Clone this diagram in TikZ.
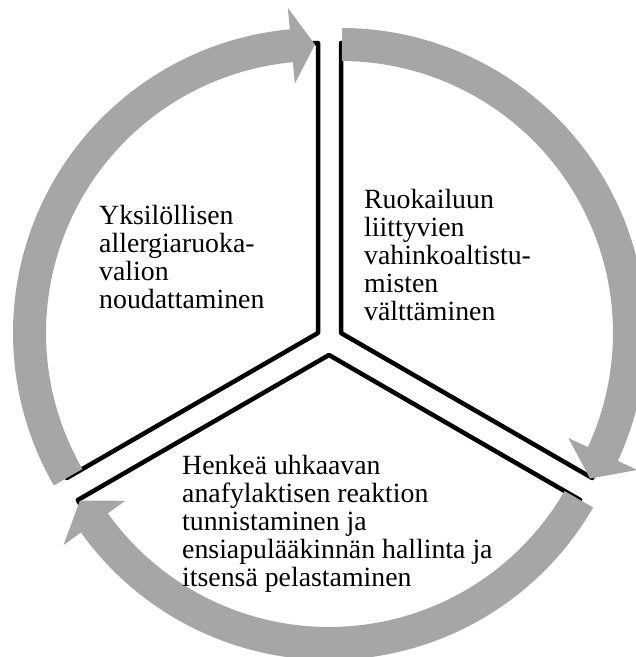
\documentclass[tikz,border=0pt]{standalone}
\usepackage{fontspec}
\setmainfont{Liberation Serif}
\definecolor{arrowgray}{HTML}{A6A6A6}
\begin{document}
\begin{tikzpicture}[x=1pt,y=1pt,
  sector/.style={fill=white,draw=black,line width=4.5pt,line join=round},
  ringarrow/.style={fill=arrowgray},
  blocktext/.style={font=\fontsize{27.8pt}{28pt}\selectfont,align=left,inner sep=0pt,anchor=north west}]
\clip (0,0) rectangle (636,657);
\coordinate (A) at (318,324);
\coordinate (B) at (341,324);
\coordinate (C) at (329,302);
% pie sectors
\draw[sector] (A) -- ++(210:290) arc[start angle=210,end angle=90,radius=290] -- cycle;
\draw[sector] (B) -- ++(90:290) arc[start angle=90,end angle=-30,radius=290] -- cycle;
\draw[sector] (C) -- ++(-30:290) arc[start angle=-30,end angle=-150,radius=290] -- cycle;
% circular arrows
\begin{scope}[shift={(A)}]
\fill[ringarrow] (210:305) arc[start angle=210,end angle=95.3,radius=305] -- (95.3:326.5) -- (90.6:288.5) -- (95.3:250.5) -- (95.3:272) arc[start angle=95.3,end angle=210,radius=272] -- cycle;
\end{scope}
\begin{scope}[shift={(B)}]
\fill[ringarrow] (89.8:305) arc[start angle=89.8,end angle=-24.8,radius=305] -- (-24.8:326.5) -- (-30.3:288.5) -- (-24.8:250.5) -- (-24.8:272) arc[start angle=-24.8,end angle=89.8,radius=272] -- cycle;
\end{scope}
\begin{scope}[shift={(C)}]
\fill[ringarrow] (-30:305) arc[start angle=-30,end angle=-144.4,radius=305] -- (-144.4:326.5) -- (-149.7:288.5) -- (-144.4:250.5) -- (-144.4:272) arc[start angle=-144.4,end angle=-30,radius=272] -- cycle;
\end{scope}
% texts
\node[blocktext] (lefttext) at (99,452) {Yksilöllisen\\allergiaruoka-\\valion\\noudattaminen};
\node[blocktext] (righttext) at (364,468) {Ruokailuun\\liittyvien\\vahinkoaltistu-\\misten\\välttäminen};
\node[blocktext] (bottomtext) at (182,202) {Henkeä uhkaavan\\anafylaktisen reaktion\\tunnistaminen ja\\ensiapulääkinnän hallinta ja\\itsensä pelastaminen};
\end{tikzpicture}
\end{document}
